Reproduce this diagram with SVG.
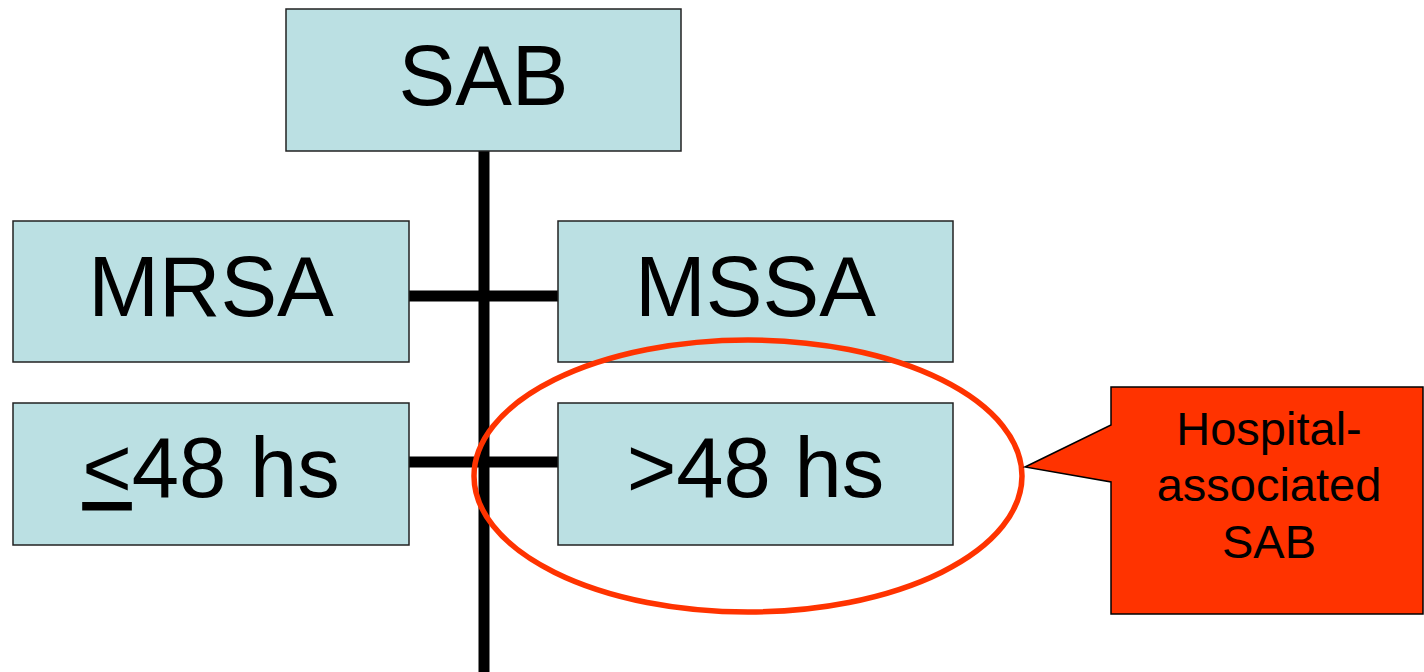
<svg xmlns="http://www.w3.org/2000/svg" width="1424" height="672" viewBox="0 0 1424 672">
  <style>
    .box { fill: #BBE0E3; stroke: #222; stroke-width: 1.5; }
    .lbl { font-family: "Liberation Sans", Arial, sans-serif; font-size: 85px; fill: #000; text-anchor: middle; }
    .wire { stroke: #000; stroke-width: 11; fill: none; }
    .note { font-family: "Liberation Sans", Arial, sans-serif; font-size: 47px; fill: #000; text-anchor: middle; }
  </style>
  <rect width="1424" height="672" fill="#fff"/>

  <g id="connectors">
    <line class="wire" x1="484" y1="151" x2="484" y2="672"/>
    <line class="wire" x1="409" y1="296" x2="558" y2="296"/>
    <line class="wire" x1="409" y1="462" x2="558" y2="462"/>
  </g>

  <g id="sab">
    <rect class="box" x="286" y="9" width="395" height="142"/>
    <text class="lbl" x="483.5" y="105">SAB</text>
  </g>

  <g id="mrsa">
    <rect class="box" x="13" y="221" width="396" height="141"/>
    <text class="lbl" x="211" y="316">MRSA</text>
  </g>

  <g id="mssa">
    <rect class="box" x="558" y="221" width="395" height="141"/>
    <text class="lbl" x="755.5" y="316">MSSA</text>
  </g>

  <g id="le48">
    <rect class="box" x="13" y="403" width="396" height="142"/>
    <text class="lbl" x="211" y="497"><tspan text-decoration="underline">&lt;</tspan>48 hs</text>
  </g>

  <g id="gt48">
    <rect class="box" x="558" y="403" width="395" height="142"/>
    <text class="lbl" x="755.5" y="497">&gt;48 hs</text>
  </g>

  <g id="highlight">
    <ellipse cx="748" cy="476" rx="274" ry="136" fill="none" stroke="#FF3300" stroke-width="5.5"/>
  </g>

  <g id="callout">
    <path d="M1111,387 H1423 V614 H1111 V482 L1025,467 L1111,425 Z" fill="#FF3300" stroke="#000" stroke-width="1.5"/>
    <text class="note" x="1269" y="445">Hospital-</text>
    <text class="note" x="1269" y="501">associated</text>
    <text class="note" x="1269" y="558">SAB</text>
  </g>
</svg>
